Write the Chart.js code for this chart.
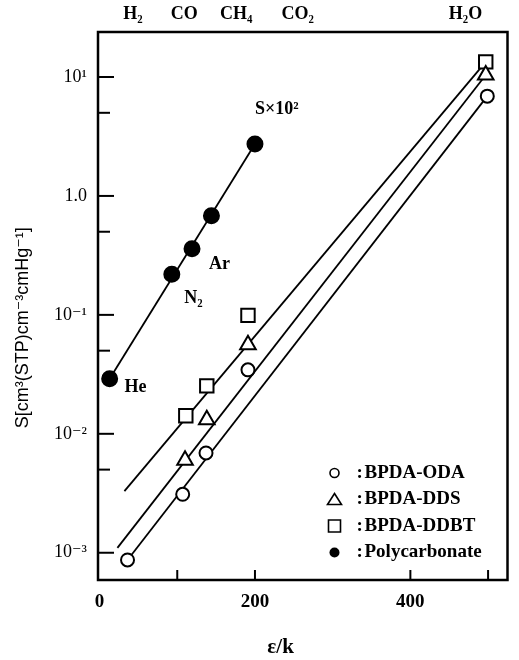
<!DOCTYPE html>
<html>
<head>
<meta charset="utf-8">
<script src="https://cdn.jsdelivr.net/npm/chart.js@4.4.1/dist/chart.umd.min.js"></script>
<style>
  html, body { margin: 0; padding: 0; background: #fff; }
</style>
</head>
<body>
<canvas id="chart" width="519" height="660"></canvas>
<script>
// measured points (x = epsilon/k, y = S)
const odaX = [36, 107, 137, 191, 499];
const odaY = [0.00087, 0.0031, 0.0069, 0.0345, 6.9];
const ddsX = [110, 138, 191, 497];
const ddsY = [0.006, 0.0131, 0.056, 10.4];
const ddbtX = [111, 138, 191, 497];
const ddbtY = [0.0142, 0.0253, 0.099, 13.4];
const pcX = [13, 93, 119, 144, 200];
const pcY = [0.029, 0.22, 0.36, 0.68, 2.73];

// straight fit lines, end points
const odaFitX = [36, 499];
const odaFitY = [0.00087, 6.9];
const ddsFitX = [23, 497];
const ddsFitY = [0.0011, 10.4];
const ddbtFitX = [32, 497];
const ddbtFitY = [0.0033, 13.4];
const pcFitX = [13, 200];
const pcFitY = [0.029, 2.73];

const xTicks = [0, 100, 200, 400, 500];
const xLabels = ["0", "", "200", "400", ""];
const yTicks = [0.001, 0.005, 0.01, 0.05, 0.1, 0.5, 1, 5, 10];
const yLabels = ["10⁻³", "", "10⁻²", "", "10⁻¹", "", "1.0", "", "10¹"];
const gasX = [43, 109, 176, 255, 471];
const gasNames = ["H₂", "CO", "CH₄", "CO₂", "H₂O"];
const seriesNames = ["BPDA-ODA", "BPDA-DDS", "BPDA-DDBT", "Polycarbonate"];

// text notes placed in data space
const noteText = ["He", "N₂", "Ar", "S×10²"];
const noteX = [32, 109, 141, 200];
const noteY = [0.0244, 0.139, 0.268, 5.3];

const SERIF = '"Liberation Serif", "DejaVu Serif", serif';
const SANS = '"Liberation Sans", "DejaVu Sans", sans-serif';

function pts(xs, ys) {
  return xs.map((x, i) => ({ x: x, y: ys[i] }));
}

function markers(label, xs, ys, style, r, fill) {
  return {
    label: label,
    data: pts(xs, ys),
    showLine: false,
    pointStyle: style,
    pointRadius: r,
    pointBackgroundColor: fill,
    pointBorderColor: "#000",
    pointBorderWidth: 2,
    order: 1
  };
}

function fitLine(xs, ys) {
  return {
    data: pts(xs, ys),
    showLine: true,
    borderColor: "#000",
    borderWidth: 1.8,
    pointRadius: 0,
    order: 2
  };
}

function drawLegendMark(ctx, i, x, y) {
  ctx.beginPath();
  ctx.lineWidth = 1.6;
  if (i === 0) {
    ctx.arc(x, y, 4.5, 0, Math.PI * 2);
    ctx.stroke();
  } else if (i === 1) {
    ctx.moveTo(x, y - 6);
    ctx.lineTo(x + 7, y + 5);
    ctx.lineTo(x - 7, y + 5);
    ctx.closePath();
    ctx.stroke();
  } else if (i === 2) {
    ctx.rect(x - 6, y - 6, 12, 12);
    ctx.stroke();
  } else {
    ctx.arc(x, y, 5, 0, Math.PI * 2);
    ctx.fill();
  }
}

const frame = {
  id: "frame",
  afterDraw(chart) {
    const ctx = chart.ctx;
    const a = chart.chartArea;
    const xs = chart.scales.x;
    const ys = chart.scales.y;
    ctx.save();
    ctx.strokeStyle = "#000";
    ctx.fillStyle = "#000";

    // inward tick marks
    ctx.lineWidth = 2;
    yTicks.forEach((v, i) => {
      const py = ys.getPixelForValue(v);
      const len = yLabels[i] ? 16 : 12;
      ctx.beginPath();
      ctx.moveTo(a.left, py);
      ctx.lineTo(a.left + len, py);
      ctx.stroke();
    });
    xTicks.forEach(v => {
      if (v === 0) return;
      const px = xs.getPixelForValue(v);
      ctx.beginPath();
      ctx.moveTo(px, a.bottom);
      ctx.lineTo(px, a.bottom - 10);
      ctx.stroke();
    });

    ctx.lineWidth = 2.5;
    ctx.strokeRect(a.left, a.top, a.right - a.left, a.bottom - a.top);

    // notes next to the points
    ctx.font = "bold 18px " + SERIF;
    ctx.textAlign = "left";
    ctx.textBaseline = "middle";
    noteText.forEach((t, i) => {
      ctx.fillText(t, xs.getPixelForValue(noteX[i]), ys.getPixelForValue(noteY[i]));
    });

    // legend box in the lower right
    ctx.font = "bold 19px " + SERIF;
    seriesNames.forEach((name, i) => {
      const cy = a.bottom - 107 + i * 26.5;
      drawLegendMark(ctx, i, a.right - 173, cy);
      ctx.fillText(":", a.right - 151, cy);
      ctx.fillText(name, a.right - 143, cy);
    });

    // axis titles
    ctx.textAlign = "center";
    ctx.font = "bold 21px " + SERIF;
    ctx.fillText("ε/k", xs.getPixelForValue(233), a.bottom + 68);

    ctx.font = "18px " + SANS;
    ctx.translate(23, ys.getPixelForValue(0.078));
    ctx.rotate(-Math.PI / 2);
    ctx.fillText("S[cm³(STP)cm⁻³cmHg⁻¹]", 0, 0);
    ctx.restore();
  }
};

const chart = new Chart(document.getElementById("chart").getContext("2d"), {
  type: "scatter",
  data: {
    datasets: [
      markers(seriesNames[0], odaX, odaY, "circle", 6.5, "#fff"),
      markers(seriesNames[1], ddsX, ddsY, "triangle", 9, "#fff"),
      markers(seriesNames[2], ddbtX, ddbtY, "rect", 9.5, "#fff"),
      markers(seriesNames[3], pcX, pcY, "circle", 7.5, "#000"),
      fitLine(odaFitX, odaFitY),
      fitLine(ddsFitX, ddsFitY),
      fitLine(ddbtFitX, ddbtFitY),
      fitLine(pcFitX, pcFitY)
    ]
  },
  options: {
    responsive: false,
    animation: false,
    layout: { padding: { left: 0, right: 7, top: 0, bottom: 0 } },
    plugins: {
      legend: { display: false },
      tooltip: { enabled: false }
    },
    scales: {
      x: {
        type: "linear",
        position: "bottom",
        min: -2,
        max: 525,
        afterBuildTicks: s => { s.ticks = xTicks.map(v => ({ value: v })); },
        afterFit: s => { s.height = 80; },
        grid: { display: false, drawTicks: false },
        border: { display: false },
        ticks: {
          autoSkip: false,
          maxRotation: 0,
          padding: 11,
          color: "#000",
          font: { family: SERIF, size: 19, weight: "bold" },
          callback: (v, i) => xLabels[i]
        }
      },
      x2: {
        type: "linear",
        position: "top",
        min: -2,
        max: 525,
        afterBuildTicks: s => { s.ticks = gasX.map(v => ({ value: v })); },
        afterFit: s => { s.height = 32; },
        grid: { display: false, drawTicks: false },
        border: { display: false },
        ticks: {
          autoSkip: false,
          maxRotation: 0,
          padding: 7,
          color: "#000",
          font: { family: SERIF, size: 18, weight: "bold" },
          callback: (v, i) => gasNames[i]
        }
      },
      y: {
        type: "logarithmic",
        position: "left",
        min: 0.00059,
        max: 23.9,
        afterBuildTicks: s => { s.ticks = yTicks.map(v => ({ value: v })); },
        afterFit: s => { s.width = 98; },
        grid: { display: false, drawTicks: false },
        border: { display: false },
        ticks: {
          autoSkip: false,
          padding: 11,
          color: "#000",
          font: { family: SERIF, size: 18 },
          callback: (v, i) => yLabels[i]
        }
      }
    }
  },
  plugins: [frame]
});
</script>
</body>
</html>
